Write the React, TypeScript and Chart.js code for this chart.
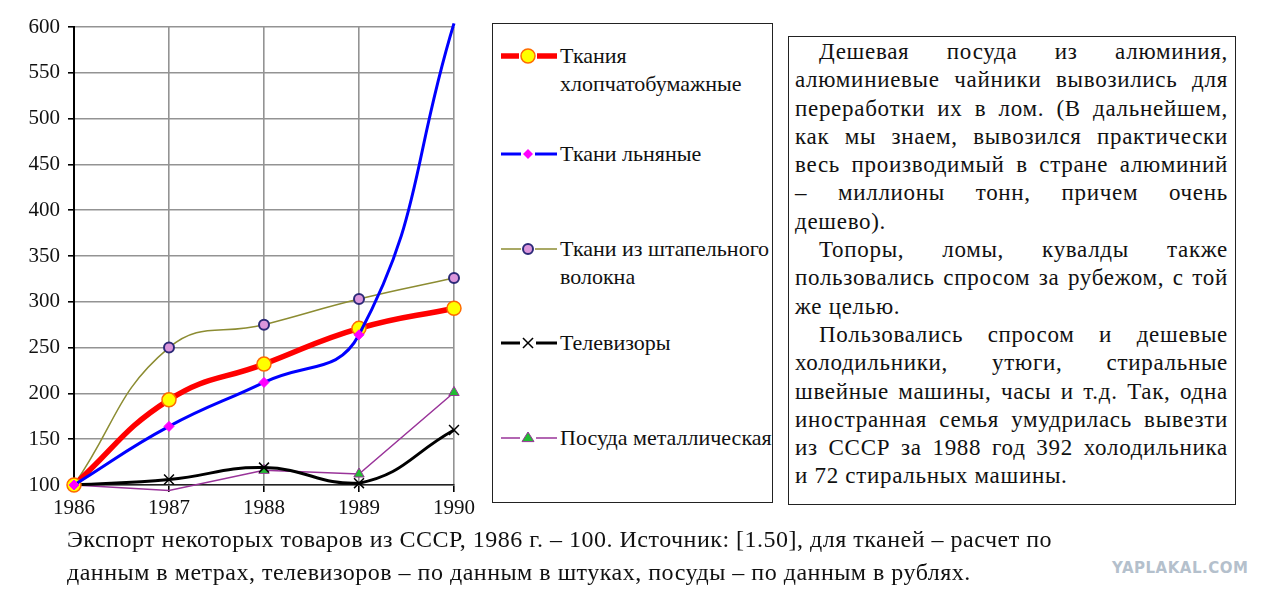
import { useEffect, useRef } from "react";
import { Chart, registerables } from "chart.js";

Chart.register(...registerables);

// Export of some goods from the USSR, 1986 = 100
const years = ["1986", "1987", "1988", "1989", "1990"];
const cotton = [100, 193, 232, 271, 293];
const linen = [100, 164, 212, 264, 604];
const staple = [100, 250, 275, 303, 326];
const tvSets = [100, 106, 119, 102, 160];
const metalware = [100, 94, 116, 112, 201];

const seriesNames = [
  ["Ткания", "хлопчатобумажные"],
  ["Ткани льняные"],
  ["Ткани из штапельного", "волокна"],
  ["Телевизоры"],
  ["Посуда металлическая"],
];

const yMin = 100;
const yMax = 600;
const yStep = 50;

const textParagraphs = [
  [
    "Дешевая посуда из алюминия,",
    "алюминиевые чайники вывозились для",
    "переработки их в лом. (В дальнейшем,",
    "как мы знаем, вывозился практически",
    "весь производимый в стране алюминий",
    "– миллионы тонн, причем очень",
    "дешево).",
  ],
  ["Топоры, ломы, кувалды также", "пользовались спросом за рубежом, с той", "же целью."],
  [
    "Пользовались спросом и дешевые",
    "холодильники, утюги, стиральные",
    "швейные машины, часы и т.д.  Так, одна",
    "иностранная семья умудрилась вывезти",
    "из СССР за 1988 год 392 холодильника",
    "и 72 стиральных машины.",
  ],
];

const captionLines = [
  "Экспорт некоторых товаров из СССР, 1986 г. – 100. Источник: [1.50], для тканей – расчет по",
  "данным в метрах, телевизоров – по данным в штуках, посуды – по данным в рублях.",
];

const serif = "'Liberation Serif', 'Times New Roman', serif";

// line + marker look of each series (used by chart and legend)
const styles = [
  { line: "#ff0000", width: 5.5, marker: "circle", fill: "#ffff00", stroke: "#ff6a00", r: 7, bw: 1.5, order: 1 },
  { line: "#0000ff", width: 3, marker: "rectRot", fill: "#ff00ff", stroke: "#ff00ff", r: 5, bw: 1, order: 0 },
  { line: "#8c8c32", width: 1.5, marker: "circle", fill: "#dc96dc", stroke: "#2c2a78", r: 5, bw: 2, order: 2 },
  { line: "#000000", width: 3, marker: "crossRot", fill: "#000000", stroke: "#000000", r: 7, bw: 1.5, order: 3 },
  { line: "#993399", width: 1.5, marker: "triangle", fill: "#22bb33", stroke: "#993399", r: 6, bw: 1, order: 4 },
];

function LegendSample({ i }: { i: number }) {
  const s = styles[i];
  const cx = 27;
  const cy = 8;
  let mark = null;
  if (s.marker === "circle") {
    mark = <circle cx={cx} cy={cy} r={s.r} fill={s.fill} stroke={s.stroke} strokeWidth={s.bw} />;
  } else if (s.marker === "rectRot") {
    mark = (
      <polygon
        points={`${cx},${cy - s.r} ${cx + s.r},${cy} ${cx},${cy + s.r} ${cx - s.r},${cy}`}
        fill={s.fill}
      />
    );
  } else if (s.marker === "crossRot") {
    const d = s.r * 0.72;
    mark = (
      <g stroke={s.stroke} strokeWidth={s.bw}>
        <line x1={cx - d} y1={cy - d} x2={cx + d} y2={cy + d} />
        <line x1={cx - d} y1={cy + d} x2={cx + d} y2={cy - d} />
      </g>
    );
  } else {
    mark = (
      <polygon
        points={`${cx},${cy - s.r} ${cx + s.r},${cy + s.r * 0.6} ${cx - s.r},${cy + s.r * 0.6}`}
        fill={s.fill}
        stroke={s.stroke}
        strokeWidth={s.bw}
      />
    );
  }
  const gap = s.marker === "crossRot" ? 8 : s.r + 2;
  return (
    <svg width={56} height={16} style={{ position: "absolute", left: 8, top: 0 }}>
      <line x1={0} y1={cy} x2={cx - gap} y2={cy} stroke={s.line} strokeWidth={s.width} />
      <line x1={cx + gap} y1={cy} x2={56} y2={cy} stroke={s.line} strokeWidth={s.width} />
      {mark}
    </svg>
  );
}

function JustLine({ text, indent, last }: { text: string; indent: boolean; last: boolean }) {
  const words = text.split(/\s+/);
  return (
    <div
      style={{
        display: "flex",
        justifyContent: last ? "flex-start" : "space-between",
        paddingLeft: indent ? 24 : 0,
        height: 28.3,
        lineHeight: "28.3px",
        whiteSpace: "pre",
      }}
    >
      {last ? <span>{text}</span> : words.map((w, k) => <span key={k}>{w}</span>)}
    </div>
  );
}

export default function App() {
  const chartRef = useRef<HTMLCanvasElement | null>(null);

  useEffect(() => {
    if (!chartRef.current) return;
    const ctx = chartRef.current.getContext("2d");
    if (!ctx) return;

    const seriesData = [cotton, linen, staple, tvSets, metalware];
    const chart = new Chart(ctx, {
      type: "line",
      data: {
        labels: years,
        datasets: seriesData.map((d, i) => {
          const s = styles[i];
          let radius: any = s.r;
          if (i === 1) radius = [s.r, s.r, s.r, s.r, 0];
          if (i === 4) radius = [s.r, 0, s.r, s.r, s.r];
          return {
            label: seriesNames[i].join(" "),
            data: d,
            order: s.order,
            borderColor: s.line,
            borderWidth: s.width,
            tension: i === 4 ? 0 : 0.45,
            pointStyle: s.marker,
            pointRadius: radius,
            pointBackgroundColor: s.fill,
            pointBorderColor: s.stroke,
            pointBorderWidth: s.bw,
            clip: 12,
          } as any;
        }),
      },
      options: {
        responsive: false,
        animation: false,
        events: [],
        layout: { padding: { left: 0, right: 26, top: 27, bottom: 0 } },
        plugins: { legend: { display: false }, tooltip: { enabled: false } },
        scales: {
          x: {
            type: "category",
            offset: false,
            grid: { color: "#939393", lineWidth: 1.6, tickColor: "#000", tickLength: 7 },
            border: { color: "#222", width: 1.5 },
            ticks: { color: "#111", font: { family: serif, size: 21 }, padding: 4, autoSkip: false, maxRotation: 0 },
            afterFit: (s: any) => {
              s.height = 45;
            },
          },
          y: {
            min: yMin,
            max: yMax,
            grid: { color: "#939393", lineWidth: 1.6, tickColor: "#000", tickLength: 6 },
            border: { color: "#000", width: 2 },
            ticks: { stepSize: yStep, color: "#111", font: { family: serif, size: 21 }, padding: 8 },
            afterFit: (s: any) => {
              s.width = 74;
            },
          },
        },
      },
    });

    return () => {
      chart.destroy();
    };
  }, []);

  const legendTops = [47, 145, 240, 334, 429];

  return (
    <div style={{ position: "absolute", left: 0, top: 0, width: 1274, height: 598, background: "#fff", fontFamily: serif, color: "#111" }}>
      <canvas ref={chartRef} width={480} height={530} style={{ position: "absolute", left: 0, top: 0 }} />

      {/* legend box */}
      <div
        style={{
          position: "absolute",
          left: 492,
          top: 23,
          width: 281,
          height: 480,
          border: "1.5px solid #222",
          boxSizing: "border-box",
        }}
      >
        {seriesNames.map((lines, i) => (
          <div key={i} style={{ position: "absolute", left: 0, top: legendTops[i] - 23, width: 281 }}>
            <LegendSample i={i} />
            <div style={{ position: "absolute", left: 67, top: -6, fontSize: 22, lineHeight: "28px", whiteSpace: "nowrap" }}>
              {lines.map((t, k) => (
                <div key={k}>{t}</div>
              ))}
            </div>
          </div>
        ))}
      </div>

      {/* text box */}
      <div
        style={{
          position: "absolute",
          left: 788,
          top: 36,
          width: 448,
          height: 469,
          border: "1.5px solid #222",
          boxSizing: "border-box",
          padding: "1px 7px 0 6px",
          fontSize: 23,
          letterSpacing: 0.7,
        }}
      >
        {textParagraphs.map((p, pi) =>
          p.map((line, li) => <JustLine key={pi + "-" + li} text={line} indent={li === 0} last={li === p.length - 1} />)
        )}
      </div>

      {/* caption */}
      <div style={{ position: "absolute", left: 67, top: 523, fontSize: 24, lineHeight: "33px", whiteSpace: "nowrap", letterSpacing: 0.5 }}>
        {captionLines.map((t, k) => (
          <div key={k}>{t}</div>
        ))}
      </div>

      <div
        style={{
          position: "absolute",
          left: 1112,
          top: 559,
          fontFamily: "'DejaVu Sans', sans-serif",
          fontWeight: "bold",
          fontSize: 15,
          color: "#b4c0cc",
          letterSpacing: 0.5,
        }}
      >
        YAPLAKAL.COM
      </div>
    </div>
  );
}
